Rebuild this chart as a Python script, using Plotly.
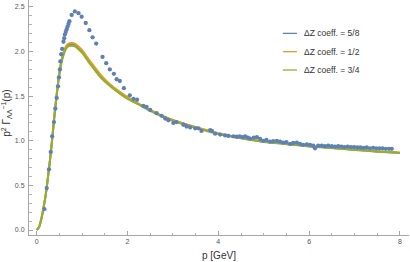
import plotly.graph_objects as go

# ---- data ----
pts_x = [0.17, 0.22, 0.27, 0.31, 0.34, 0.38, 0.41, 0.44, 0.47, 0.49, 0.51, 0.52, 0.54, 0.56,
         0.59, 0.605, 0.62, 0.64, 0.66, 0.68, 0.70, 0.72, 0.77, 0.84, 0.92, 0.99, 1.08, 1.16,
         1.23, 1.31, 1.45, 1.53, 1.61, 1.70, 1.76, 1.83, 1.92, 2.05, 2.13, 2.21, 2.35, 2.42,
         2.50, 2.64, 2.75, 2.83, 2.90, 3.01, 3.08, 3.23, 3.30, 3.38, 3.49, 3.56, 3.63, 3.82,
         3.86, 3.93, 4.04, 4.15, 4.22, 4.33, 4.40, 4.47, 4.53, 4.59, 4.65, 4.70, 4.78, 4.85,
         4.92, 4.99, 5.06, 5.14, 5.21, 5.29, 5.36, 5.43, 5.50, 5.58, 5.65, 5.73, 5.80, 5.87,
         5.95, 6.02, 6.09, 6.13, 6.20, 6.28, 6.35, 6.42, 6.50, 6.57, 6.64, 6.71, 6.78, 6.85,
         6.92, 6.99, 7.06, 7.13, 7.20, 7.27, 7.34, 7.41, 7.48, 7.55, 7.62, 7.69, 7.76, 7.82]
pts_y = [0.235, 0.47, 0.68, 0.875, 1.05, 1.21, 1.36, 1.48, 1.61, 1.71, 1.80, 1.89, 1.97, 2.03,
         2.11, 2.15, 2.19, 2.22, 2.25, 2.28, 2.31, 2.34, 2.41, 2.45, 2.43, 2.39, 2.32, 2.24,
         2.16, 2.09, 1.94, 1.87, 1.80, 1.75, 1.69, 1.67, 1.59, 1.51, 1.47, 1.46, 1.39, 1.38,
         1.345, 1.31, 1.28, 1.25, 1.23, 1.20, 1.21, 1.18, 1.16, 1.15, 1.14, 1.14, 1.11, 1.12,
         1.11, 1.08, 1.07, 1.06, 1.055, 1.05, 1.045, 1.05, 1.04, 1.05, 1.035, 1.025, 1.035, 1.04,
         1.02, 1.00, 1.01, 0.99, 0.995, 1.00, 0.99, 0.98, 0.985, 0.965, 0.975, 0.98, 0.965, 0.955,
         0.96, 0.955, 0.945, 0.915, 0.945, 0.945, 0.94, 0.945, 0.94, 0.935, 0.94, 0.935, 0.93, 0.935,
         0.93, 0.93, 0.925, 0.925, 0.92, 0.925, 0.915, 0.92, 0.915, 0.915, 0.915, 0.91, 0.91, 0.91]

curve_x = [0, 0.05, 0.1, 0.15, 0.2, 0.25, 0.3, 0.35, 0.4, 0.45, 0.5, 0.55, 0.6, 0.65, 0.7,
           0.77, 0.85, 0.9, 1.0, 1.1, 1.2, 1.4, 1.6, 1.8, 2.0, 2.25, 2.5, 2.75, 3.0, 3.5,
           4.0, 4.5, 5.0, 5.5, 6.0, 6.5, 7.0, 7.5, 8.0]
curve_58 = [0, 0.03, 0.12, 0.25, 0.40, 0.60, 0.82, 1.07, 1.33, 1.56, 1.76, 1.90, 1.99, 2.05, 2.075,
            2.08, 2.07, 2.05, 2.00, 1.93, 1.86, 1.73, 1.63, 1.55, 1.48, 1.41, 1.34, 1.28, 1.23, 1.15,
            1.08, 1.03, 0.99, 0.965, 0.94, 0.92, 0.90, 0.88, 0.865]
curve_12 = [0, 0.03, 0.12, 0.25, 0.40, 0.60, 0.82, 1.07, 1.34, 1.57, 1.77, 1.915, 2.005, 2.065, 2.09,
            2.095, 2.085, 2.065, 2.015, 1.945, 1.875, 1.745, 1.64, 1.56, 1.49, 1.415, 1.345, 1.285, 1.235, 1.155,
            1.085, 1.035, 0.995, 0.968, 0.943, 0.922, 0.902, 0.882, 0.867]
curve_34 = [0, 0.03, 0.12, 0.25, 0.40, 0.60, 0.82, 1.06, 1.32, 1.55, 1.745, 1.885, 1.975, 2.035, 2.06,
            2.065, 2.055, 2.035, 1.985, 1.915, 1.845, 1.715, 1.62, 1.54, 1.47, 1.405, 1.335, 1.275, 1.225, 1.145,
            1.075, 1.027, 0.987, 0.962, 0.937, 0.918, 0.898, 0.878, 0.862]

names = ["ΔZ coeff. = 5/8", "ΔZ coeff. = 1/2", "ΔZ coeff. = 3/4"]
colors = ["#5E81B5", "#E19C24", "#8FB032"]

fig = go.Figure()
for ys, nm, c in zip([curve_58, curve_12, curve_34], names, colors):
    fig.add_trace(go.Scatter(x=curve_x, y=ys, mode="lines", name=nm,
                             line=dict(color=c, width=2, shape="spline", smoothing=0.6),
                             showlegend=False))
fig.add_trace(go.Scatter(x=pts_x, y=pts_y, mode="markers",
                         marker=dict(color="#5E81B5", size=4.3, line=dict(width=0)),
                         showlegend=False))

# manual legend (short line keys like the reference)
leg_y = [0.858, 0.780, 0.702]
for nm, c, yy in zip(names, colors, leg_y):
    fig.add_shape(type="line", xref="paper", yref="paper", x0=0.668, x1=0.705, y0=yy, y1=yy,
                  line=dict(color=c, width=1.3))
    fig.add_annotation(xref="paper", yref="paper", x=0.718, y=yy, text=nm, showarrow=False,
                       xanchor="left", yanchor="middle",
                       font=dict(family="Liberation Sans", size=8.5, color="#333333"))

axis_common = dict(showline=True, linecolor="#a6a6a6", linewidth=1, showgrid=False,
                   zeroline=False, ticks="inside", tickcolor="#a6a6a6", ticklen=4,
                   automargin=False,
                   tickfont=dict(family="Liberation Sans", size=7, color="#555555"))
fig.update_xaxes(range=[-0.17, 8.2], tickvals=[0, 2, 4, 6, 8],
                 minor=dict(ticks="inside", ticklen=2.5, dtick=0.5, tick0=0, tickcolor="#b5b5b5"),
                 **axis_common)
fig.update_yaxes(range=[-0.056, 2.578], tickvals=[0, 0.5, 1.0, 1.5, 2.0, 2.5], tickformat=".1f",
                 minor=dict(ticks="inside", ticklen=2.5, dtick=0.1, tick0=0, tickcolor="#b5b5b5"),
                 ticklabelstandoff=2, **axis_common)

fig.add_annotation(xref="paper", yref="paper", x=0.5, y=-0.089, text="p [GeV]", showarrow=False,
                   xanchor="center", yanchor="middle",
                   font=dict(family="Liberation Sans", size=10, color="#333333"))
fig.add_annotation(xref="paper", yref="paper", x=-0.058, y=0.52,
                   text="p<sup>2</sup> Γ<sub>ΛΛ</sub><sup>−1</sup>(p)", showarrow=False,
                   textangle=-90, xanchor="center", yanchor="middle",
                   font=dict(family="Liberation Sans", size=10, color="#333333"))

fig.update_layout(width=410, height=262, margin=dict(l=29, r=1, t=0, b=27),
                  plot_bgcolor="white", paper_bgcolor="white")
fig.write_html("out.html", config={"displayModeBar": False},
               post_script="document.body.style.margin='0';document.body.style.overflow='hidden';")
